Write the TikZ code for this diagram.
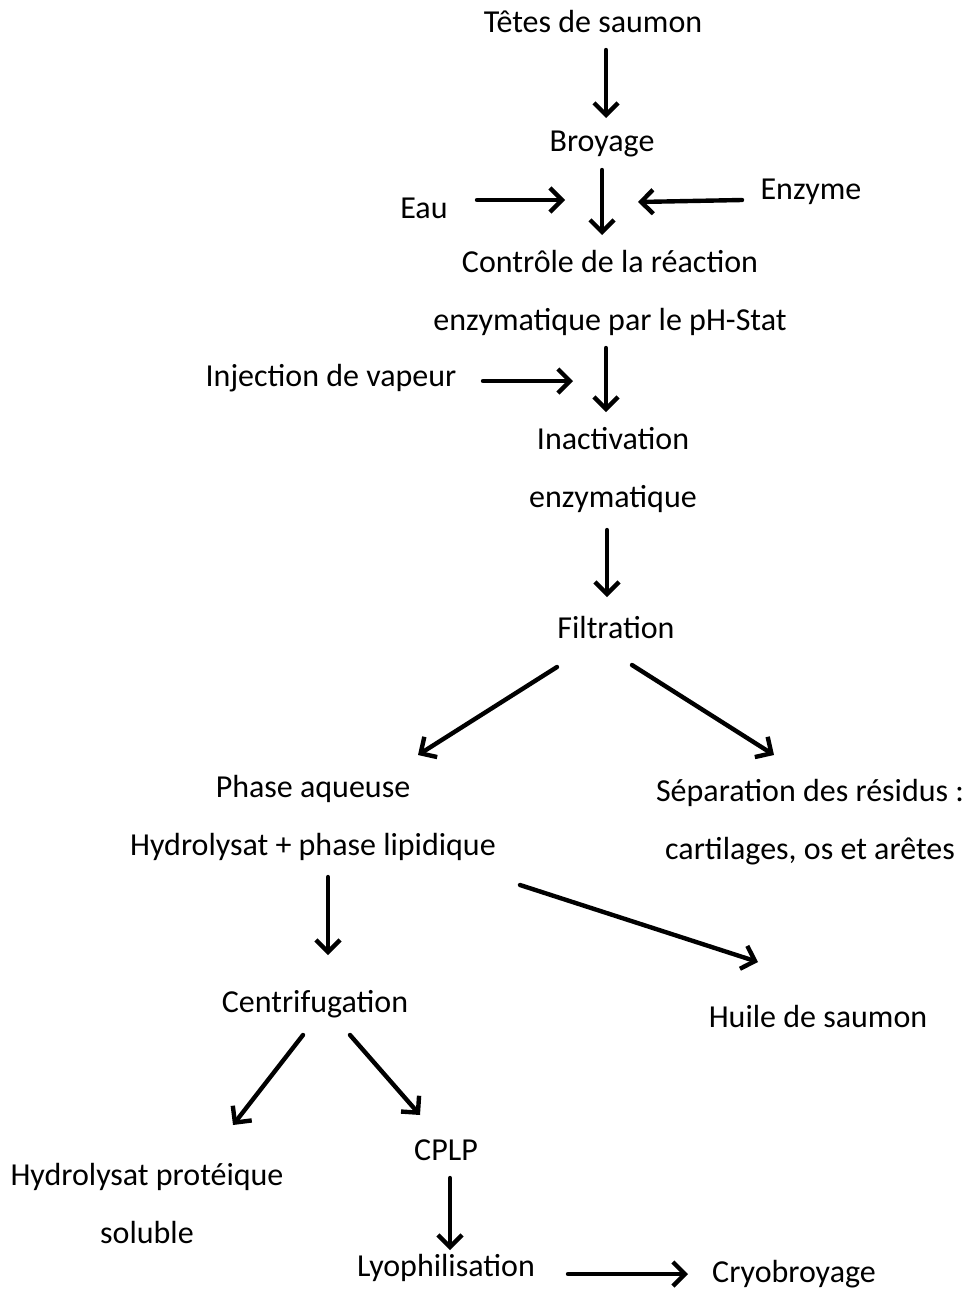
\documentclass[tikz,border=0pt]{standalone}
\usepackage{fontspec}
\setmainfont{Carlito}
\usepackage{tikz}
\usetikzlibrary{arrows.meta,positioning}
\tikzset{fleche/.style={-{Straight Barb[length=9pt,width=18pt,line width=3.3pt]},line width=3.3pt,line cap=round}}
\tikzset{etape/.style={align=center,inner sep=0pt,font=\fontsize{24}{43.5}\selectfont}}

\begin{document}
\begin{tikzpicture}[x=0.75pt,y=-0.75pt]
	\useasboundingbox (0,0) rectangle (968,1289);
	
	% etapes
	\node[etape] (tetes) at (593,22) {Têtes de saumon};
	\node[etape] (broyage) at (602,144) {Broyage};
	\node[etape] (eau) at (424,208) {Eau};
	\node[etape] (enzyme) at (811,192) {Enzyme};
	\node[etape] (controle) at (610,293) {Contrôle de la réaction\\enzymatique par le pH-Stat};
	\node[etape] (vapeur) at (331,378) {Injection de vapeur};
	\node[etape] (inactivation) at (613,470) {Inactivation\\enzymatique};
	\node[etape] (filtration) at (616,627) {Filtration};
	\node[etape] (phase) at (313,818) {Phase aqueuse\\Hydrolysat + phase lipidique};
	\node[etape] (residus) at (810,822) {Séparation des résidus :\\cartilages, os et arêtes};
	\node[etape] (centri) at (315,1004) {Centrifugation};
	\node[etape] (huile) at (818,1016) {Huile de saumon};
	\node[etape] (hydro) at (147,1203) {Hydrolysat protéique\\soluble};
	\node[etape] (cplp) at (446,1150) {CPLP};
	\node[etape] (lyo) at (446,1268) {Lyophilisation};
	\node[etape] (cryo) at (794,1274) {Cryobroyage};
	
	% extremites des fleches
	\coordinate (a1) at (606,50);   \coordinate (b1) at (606,118);
	\coordinate (a2) at (602,170);  \coordinate (b2) at (602,235);
	\coordinate (a3) at (477,200);  \coordinate (b3) at (565,200);
	\coordinate (a4) at (742,200);  \coordinate (b4) at (638,202);
	\coordinate (a5) at (606,348);  \coordinate (b5) at (606,412);
	\coordinate (a6) at (483,381);  \coordinate (b6) at (573,381);
	\coordinate (a7) at (607,530);  \coordinate (b7) at (607,597);
	\coordinate (a8) at (557,667);  \coordinate (b8) at (418,755);
	\coordinate (a9) at (632,665);  \coordinate (b9) at (774,755);
	\coordinate (a10) at (328,877); \coordinate (b10) at (328,955);
	\coordinate (a11) at (520,885); \coordinate (b11) at (758,962);
	\coordinate (a12) at (303,1035); \coordinate (b12) at (233,1125);
	\coordinate (a13) at (350,1035); \coordinate (b13) at (420,1115);
	\coordinate (a14) at (450,1178); \coordinate (b14) at (450,1250);
	\coordinate (a15) at (568,1274); \coordinate (b15) at (688,1274);
	
	\foreach \i in {1,...,15}
		\draw[fleche] (a\i) -- (b\i);
\end{tikzpicture}
\end{document}
